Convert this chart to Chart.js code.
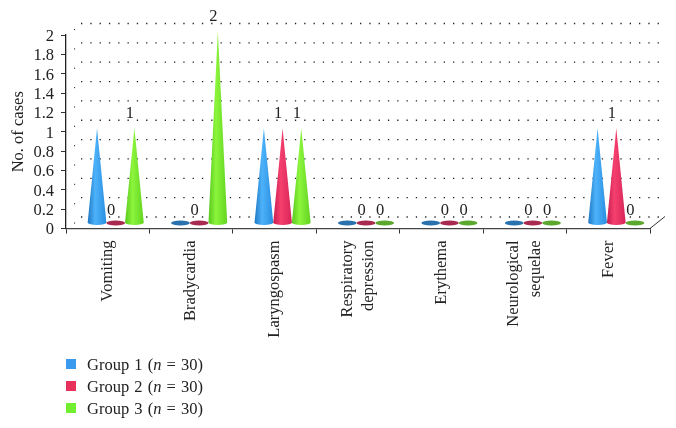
<!DOCTYPE html>
<html>
<head>
<meta charset="utf-8">
<script src="https://cdn.jsdelivr.net/npm/chart.js@4"></script>
<style>
  html, body { margin: 0; padding: 0; background: #fff; }
  #wrap { position: relative; width: 676px; height: 428px; overflow: hidden; }
  #legend { position: absolute; left: 66px; top: 354px; font: 16.5px "Liberation Serif", serif; word-spacing: 1px; color: #222; }
  #legend div { height: 22px; line-height: 22px; white-space: nowrap; }
  #legend span { display: inline-block; position: relative; top: -1px; width: 10px; height: 10px; margin-right: 11px; }
</style>
</head>
<body>
<div id="wrap">
  <canvas id="casesChart" width="676" height="428"></canvas>
  <div id="legend"></div>
</div>
<script>
// chart data
var categories = ['Vomiting', 'Bradycardia', 'Laryngospasm', ['Respiratory', 'depression'], 'Erythema', ['Neurological', 'sequelae'], 'Fever'];
var groupNames = ['Group 1', 'Group 2', 'Group 3'];
var groupSizes = [30, 30, 30];
var group1 = [1, 0, 1, 0, 0, 0, 1];
var group2 = [0, 0, 1, 0, 0, 0, 1];
var group3 = [1, 2, 1, 0, 0, 0, 0];
var yTicks = [0, 0.2, 0.4, 0.6, 0.8, 1, 1.2, 1.4, 1.6, 1.8, 2];

// left / mid / right of each cone, then the flat disc for a zero
var coneColors = [
    ['#1f78c4', '#4db2fa', '#2a8ee0', '#2a72ad'],
    ['#c81e50', '#f5406e', '#d62558', '#a82a4e'],
    ['#58c81e', '#8cf53c', '#62d420', '#5aa82e']
];
var legendColors = ['#3a9bee', '#e8305c', '#72ee30'];
var textFont = '"Liberation Serif", serif';

function drawCone(ctx, bar, colors) {
    var cx = bar.x + 8;                    // the 3D floor sits behind the axes
    var baseY = bar.base - 5.5;
    var tipY = bar.y - 3.5;
    var r = bar.width / 2;
    if (bar.base - bar.y < 1) {
        ctx.fillStyle = colors[3];
        ctx.beginPath();
        ctx.ellipse(cx, baseY, r, 2.4, 0, 0, Math.PI * 2);
        ctx.fill();
        return;
    }
    var grad = ctx.createLinearGradient(cx - r, 0, cx + r, 0);
    grad.addColorStop(0, colors[0]);
    grad.addColorStop(0.4, colors[1]);
    grad.addColorStop(1, colors[2]);
    ctx.fillStyle = grad;
    ctx.beginPath();
    ctx.moveTo(cx, tipY);
    ctx.lineTo(cx + r, baseY);
    ctx.ellipse(cx, baseY, r, 2.4, 0, 0, Math.PI);
    ctx.closePath();
    ctx.fill();
}

var conePlugin = {
    id: 'cones',
    beforeDraw: function(chart) {
        // centre the two line labels on their category
        chart.scales.x.getLabelItems(chart.chartArea).forEach(function(item) {
            if (Array.isArray(item.label) && !item.centred) {
                item.textOffset -= item.font.lineHeight / 2;
                item.centred = true;
            }
        });
    },
    beforeDatasetsDraw: function(chart) {
        var ctx = chart.ctx;
        var x = chart.scales.x, y = chart.scales.y;
        ctx.save();
        // dotted back wall and side wall
        ctx.strokeStyle = '#222';
        ctx.lineWidth = 1.3;
        ctx.lineCap = 'butt';
        yTicks.forEach(function(t) {
            var py = y.getPixelForValue(t);
            ctx.setLineDash([1.3, 8]);
            ctx.beginPath();
            ctx.moveTo(x.left + 15, py - 11.5);
            ctx.lineTo(x.right + 14, py - 11.5);
            ctx.stroke();
            ctx.setLineDash([]);
            ctx.fillStyle = '#333';
            ctx.fillRect(x.left + 8, py - 6, 1.1, 1.1);
        });
        // corner of the floor
        ctx.strokeStyle = '#333';
        ctx.lineWidth = 1;
        ctx.beginPath();
        ctx.moveTo(x.right, y.bottom);
        ctx.lineTo(x.right + 15, y.bottom - 12);
        ctx.stroke();
        // cones
        chart.data.datasets.forEach(function(ds, i) {
            chart.getDatasetMeta(i).data.forEach(function(bar) {
                drawCone(ctx, bar, coneColors[i]);
            });
        });
        // value labels, second and third group only
        ctx.fillStyle = '#222';
        ctx.font = '16.5px ' + textFont;
        ctx.textAlign = 'center';
        ctx.textBaseline = 'middle';
        [1, 2].forEach(function(i) {
            chart.getDatasetMeta(i).data.forEach(function(bar, j) {
                ctx.fillText(String(chart.data.datasets[i].data[j]), bar.x + 3.5, bar.y - 18);
            });
        });
        ctx.restore();
        return false;
    }
};

var seriesValues = [group1, group2, group3];
var ctx = document.getElementById('casesChart').getContext('2d');
var casesChart = new Chart(ctx, {
    type: 'bar',
    data: {
        labels: categories,
        datasets: seriesValues.map(function(values, i) {
            return {
                label: groupNames[i] + ' (n = ' + groupSizes[i] + ')',
                data: values,
                backgroundColor: legendColors[i],
                categoryPercentage: 0.672,
                barPercentage: 1
            };
        })
    },
    options: {
        responsive: false,
        animation: false,
        layout: { padding: { top: 35, right: 26, bottom: 0, left: 0 } },
        plugins: {
            legend: { display: false },
            tooltip: { enabled: false }
        },
        scales: {
            x: {
                border: { color: '#444', width: 1.3 },
                grid: { drawOnChartArea: false, color: '#333', tickLength: 5, offset: true },
                afterFit: function(scale) { scale.height = 199.5; },
                ticks: {
                    color: '#222',
                    font: { family: textFont, size: 16.5, lineHeight: 1.3 },
                    minRotation: 90,
                    maxRotation: 90,
                    autoSkip: false,
                    padding: 7
                }
            },
            y: {
                min: 0,
                max: 2,
                afterFit: function(scale) { scale.width = 66; },
                afterBuildTicks: function(scale) {
                    scale.ticks = yTicks.map(function(v) { return { value: v }; });
                },
                border: { color: '#222', width: 1.3 },
                grid: { drawOnChartArea: false, color: '#333', tickLength: 5 },
                title: {
                    display: true,
                    text: 'No. of cases',
                    color: '#222',
                    font: { family: textFont, size: 16.5 },
                    padding: { top: 9, bottom: 0 }
                },
                ticks: {
                    color: '#222',
                    font: { family: textFont, size: 16.5 },
                    padding: 7,
                    labelOffset: 1.5,
                    autoSkip: false,
                    callback: function(v) { return String(v); }
                }
            }
        }
    },
    plugins: [conePlugin]
});

// legend, in html because of the italic n
var legendBox = document.getElementById('legend');
groupNames.forEach(function(name, i) {
    var row = document.createElement('div');
    row.innerHTML = '<span style="background:' + legendColors[i] + '"></span>' + name + ' (<i>n</i> = ' + groupSizes[i] + ')';
    legendBox.appendChild(row);
});
</script>
</body>
</html>
